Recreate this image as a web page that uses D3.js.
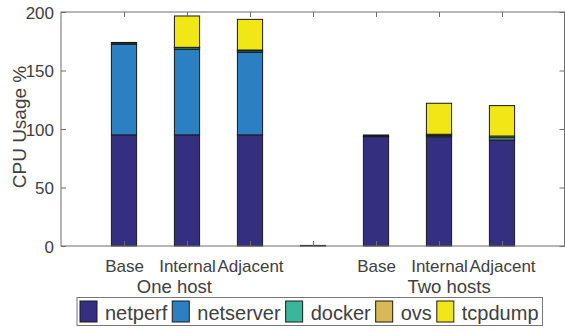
<!DOCTYPE html>
<html><head><meta charset="utf-8">
<script src="https://cdn.jsdelivr.net/npm/d3@7"></script>
<style>body{margin:0;background:#fff}svg{display:block}text{font-family:"Liberation Sans",Arial,sans-serif;fill:#404040}</style>
</head><body>
<script>
const categories = ["Base","Internal","Adjacent","","Base","Internal","Adjacent"];
const groups = ["One host","Two hosts"];
const groupPos = [1.8, 6.16];
const seriesNames = ["netperf","netserver","docker","ovs","tcpdump"];
const netperf   = [95.0, 95.0, 95.0, 0,   93.5, 93.4, 90.6];
const netserver = [77.4, 73.1, 70.5, 0,   0,    0,    0];
const docker    = [1.0,  1.4,  1.3,  0,   0.6,  1.0,  2.0];
const ovs       = [0.6,  0.3,  0.7,  0.5, 0.8,  1.1,  1.4];
const tcpdump   = [0,    26.8, 26.2, 0,   0,    26.5, 26.0];
const yTicks = [0,50,100,150,200];
const colors = ["#352f81","#2b7fc3","#3ab79b","#d8b955","#f1e616"];

const W=565,H=332;
const svg=d3.select("body").append("svg").attr("width",W).attr("height",H);
const x=d3.scaleLinear().domain([0,8]).range([61,565]);
const y=d3.scaleLinear().domain([0,200]).range([246,12]);
const series=[netperf,netserver,docker,ovs,tcpdump];
const rows=categories.map((c,i)=>{const o={i};seriesNames.forEach((s,k)=>o[s]=series[k][i]);return o;});
const stack=d3.stack().keys(seriesNames)(rows);
const bw=(x(1)-x(0))*0.4;

const axisCol="#6e6e6e";
// bars
stack.forEach((layer,k)=>{
  svg.append("g").selectAll("rect").data(layer.filter(d=>d[1]-d[0]>0)).join("rect")
    .attr("x",d=>x(d.data.i+1)-bw/2).attr("width",bw)
    .attr("y",d=>y(d[1])).attr("height",d=>y(d[0])-y(d[1]))
    .attr("fill",colors[k]).attr("stroke","#1a1a1a").attr("stroke-width",1);
});
// box
const X0=x(0), X1=x(8)-0.5, Y0=y(0), Y1=y(200);
svg.append("rect").attr("x",X0).attr("y",Y1).attr("width",X1-X0).attr("height",Y0-Y1)
  .attr("fill","none").attr("stroke",axisCol).attr("stroke-width",1);
// y ticks
const yAxisL=d3.axisLeft(y).tickValues(yTicks).tickSize(-5).tickPadding(7);
const gl=svg.append("g").attr("transform",`translate(${X0},0)`).call(yAxisL);
gl.select(".domain").remove();
gl.selectAll("line").attr("stroke",axisCol);
gl.selectAll("text").attr("font-size",17).attr("fill","#404040").attr("dy","0.36em");
const yAxisR=d3.axisRight(y).tickValues(yTicks).tickSize(-5).tickFormat("");
const gr=svg.append("g").attr("transform",`translate(${X1},0)`).call(yAxisR);
gr.select(".domain").remove();gr.selectAll("line").attr("stroke",axisCol);
// x ticks
const xt=d3.range(1,8);
const xAxisB=d3.axisBottom(x).tickValues(xt).tickSize(-5).tickPadding(14).tickFormat(d=>categories[d-1]);
const gb=svg.append("g").attr("transform",`translate(0,${Y0})`).call(xAxisB);
gb.select(".domain").remove();gb.selectAll("line").attr("stroke",axisCol);
gb.selectAll("text").attr("font-size",17).attr("fill","#404040");
const xAxisT=d3.axisTop(x).tickValues(xt).tickSize(-5).tickFormat("");
const gt=svg.append("g").attr("transform",`translate(0,${Y1})`).call(xAxisT);
gt.select(".domain").remove();gt.selectAll("line").attr("stroke",axisCol);
// group labels
svg.append("g").selectAll("text").data(groups).join("text")
  .attr("x",(d,i)=>x(groupPos[i])).attr("y",293).attr("text-anchor","middle")
  .attr("font-size",18.5).text(d=>d);
// y label
svg.append("text").attr("transform","translate(26,127) rotate(-90)").attr("text-anchor","middle")
  .attr("font-size",19).text("CPU Usage %");
// legend
const lg=svg.append("g");
const box=lg.append("rect").attr("x",77).attr("y",297.5).attr("height",28).attr("fill","#fff")
  .attr("stroke","#777").attr("stroke-width",1);
let cx=80;
seriesNames.forEach((s,k)=>{
  lg.append("rect").attr("x",cx).attr("y",301).attr("width",17).attr("height",21)
    .attr("fill",colors[k]).attr("stroke","#1a1a1a").attr("stroke-width",1);
  const t=lg.append("text").attr("x",cx+25).attr("y",320).attr("font-size",20).text(s);
  cx=cx+25+t.node().getComputedTextLength()+5;
});
box.attr("width",cx-77-1);
</script>
</body></html>
